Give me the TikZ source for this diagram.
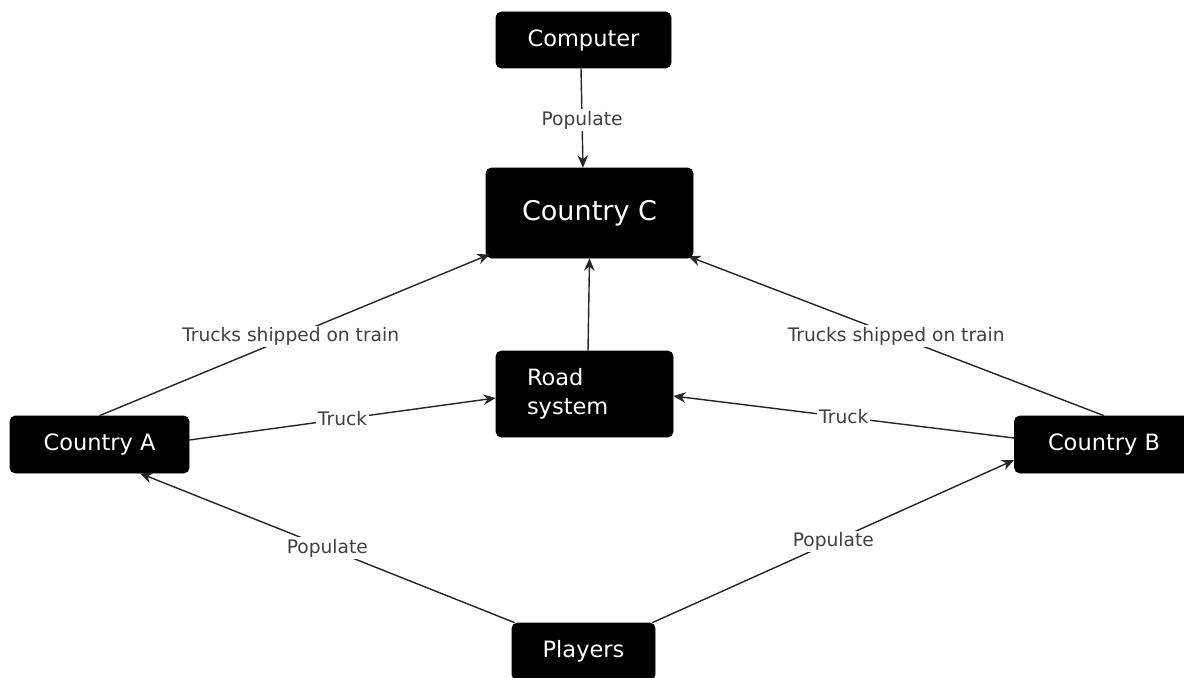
\documentclass[tikz,border=0pt]{standalone}
\usepackage{fontspec}
\setmainfont{DejaVu Sans}
\usetikzlibrary{arrows.meta,calc}
\begin{document}
\begin{tikzpicture}[
  box/.style={fill=black, draw=black, rounded corners=3pt, text=white, inner sep=0pt, font=\fontsize{12.8}{15}\selectfont},
  link/.style={draw=black!85, line width=0.8pt},
  arr/.style={link, -{Stealth[length=7pt,width=6pt]}},
  lbl/.style={fill=white, inner sep=1pt, text=black!75, font=\fontsize{10.6}{12}\selectfont}
]
\useasboundingbox (0,0) rectangle (23.68,-13.54);
\clip (0,0) rectangle (23.68,-13.54);

\node[box, minimum width=3.50cm, minimum height=1.12cm] (comp) at (11.67,-0.80) {Computer};
\node[box, minimum width=4.14cm, minimum height=1.80cm, font=\fontsize{15.4}{18}\selectfont] (C) at (11.79,-4.26) {Country C};
\node[box, minimum width=3.54cm, minimum height=1.72cm, align=left, text width=2.30cm, inner xsep=0.62cm, font=\fontsize{12.8}{16.5}\selectfont] (road) at (11.69,-7.88) {Road\\system};
\node[box, minimum width=3.58cm, minimum height=1.14cm] (A) at (1.99,-8.89) {Country A};
\node[box, minimum width=3.58cm, minimum height=1.14cm] (B) at (22.08,-8.89) {Country B};
\node[box, minimum width=2.86cm, minimum height=1.14cm] (P) at (11.67,-13.03) {Players};

\draw[arr] ([xshift=-0.05cm]comp.south) -- node[lbl, pos=0.52] {Populate} ([xshift=-0.13cm]C.north);
\draw[arr] ([xshift=0.07cm]road.north) -- (C.south);
\draw[arr] (A.north) -- node[lbl, pos=0.49] {Trucks shipped on train} ([xshift=0.08cm,yshift=0.08cm]C.south west);
\draw[arr] (B.north) -- node[lbl, pos=0.5] {Trucks shipped on train} ([xshift=-0.10cm,yshift=0.04cm]C.south east);
\draw[arr] ([yshift=0.09cm]A.east) -- node[lbl, pos=0.5] {Truck} ([yshift=-0.08cm]road.west);
\draw[arr] ([yshift=0.13cm]B.west) -- node[lbl, pos=0.5] {Truck} ([yshift=-0.04cm]road.east);
\draw[arr] ([xshift=0.06cm]P.north west) -- node[lbl, pos=0.5] {Populate} ([xshift=0.81cm]A.south);
\draw[arr] ([xshift=-0.06cm]P.north east) -- node[lbl, pos=0.5] {Populate} ([yshift=-0.31cm]B.west);
\end{tikzpicture}
\end{document}
